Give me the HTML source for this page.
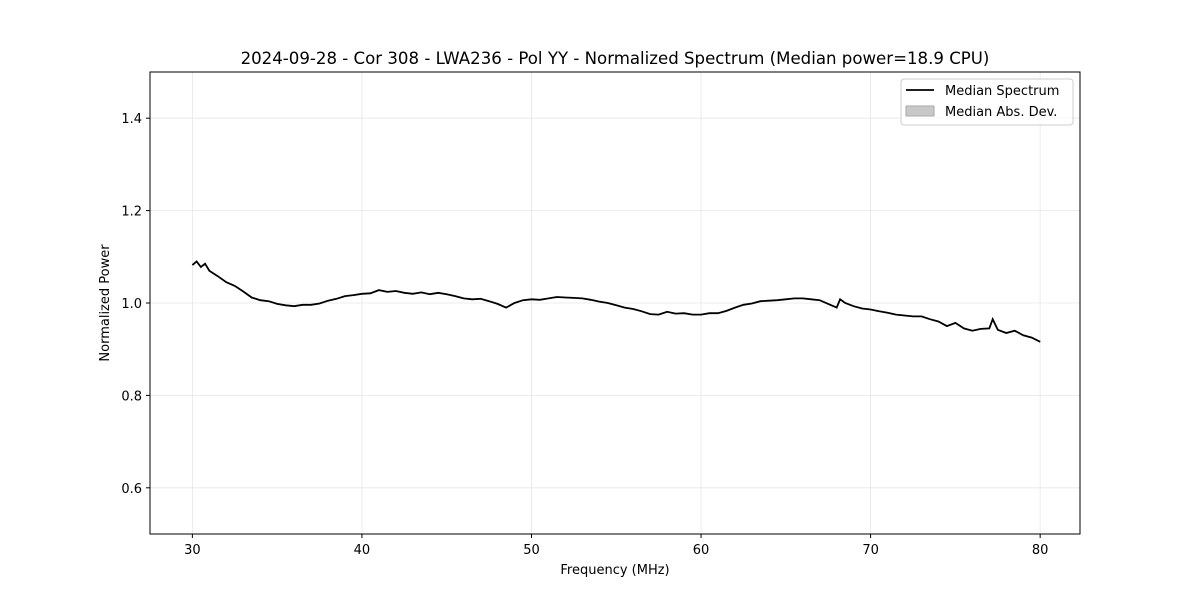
<!DOCTYPE html>
<html><head><meta charset="utf-8"><style>
body{margin:0;background:#fff}
svg{display:block;font-family:"DejaVu Sans","Liberation Sans",sans-serif}
</style></head><body>
<svg id="chart" width="1200" height="600">
<rect width="1200" height="600" fill="#fff"/>
<g id="grid"></g>
<g id="ticks"></g>
<path id="line" fill="none" stroke="#000" stroke-width="1.8"/>
<rect x="150" y="72" width="930" height="462" fill="none" stroke="#000" stroke-width="1"/>
<text x="615" y="64" text-anchor="middle" font-size="16.6">2024-09-28 - Cor 308 - LWA236 - Pol YY - Normalized Spectrum (Median power=18.9 CPU)</text>
<text x="615" y="574" text-anchor="middle" font-size="13">Frequency (MHz)</text>
<text x="109" y="303" text-anchor="middle" font-size="13" transform="rotate(-90 109 303)">Normalized Power</text>
<g>
<rect x="901" y="79" width="172" height="46" rx="3" fill="#fff" fill-opacity="0.8" stroke="#ccc"/>
<line x1="906" y1="90" x2="934" y2="90" stroke="#000" stroke-width="1.8"/>
<text x="945" y="95" font-size="13">Median Spectrum</text>
<rect x="906" y="106" width="28" height="10" fill="#c8c8c8" stroke="#aaa"/>
<text x="945" y="116" font-size="13">Median Abs. Dev.</text>
</g>
</svg>
<script>
const freqs=[30,30.25,30.5,30.75,31,31.5,32,32.5,33,33.5,34,34.5,35,35.5,36,36.5,37,37.5,38,38.5,39,39.5,40,40.5,41,41.5,42,42.5,43,43.5,44,44.5,45,45.5,46,46.5,47,47.5,48,48.5,49,49.5,50,50.5,51,51.5,52,52.5,53,53.5,54,54.5,55,55.5,56,56.5,57,57.5,58,58.5,59,59.5,60,60.5,61,61.5,62,62.5,63,63.5,64,64.5,65,65.5,66,66.5,67,67.5,68,68.2,68.5,69,69.5,70,70.5,71,71.5,72,72.5,73,73.5,74,74.5,75,75.5,76,76.5,77,77.2,77.5,78,78.5,79,79.5,80];
const power=[1.082,1.09,1.078,1.085,1.07,1.058,1.045,1.037,1.025,1.012,1.006,1.004,0.998,0.995,0.993,0.996,0.996,0.999,1.005,1.009,1.015,1.017,1.02,1.021,1.028,1.024,1.026,1.022,1.02,1.023,1.019,1.022,1.019,1.015,1.01,1.008,1.009,1.004,0.998,0.99,1.0,1.006,1.008,1.007,1.01,1.013,1.012,1.011,1.01,1.007,1.003,1.0,0.995,0.99,0.987,0.982,0.976,0.975,0.981,0.977,0.978,0.975,0.975,0.978,0.978,0.983,0.99,0.996,0.999,1.004,1.005,1.006,1.008,1.01,1.01,1.008,1.006,0.998,0.99,1.008,1.0,0.993,0.988,0.986,0.982,0.979,0.975,0.973,0.971,0.971,0.965,0.96,0.95,0.957,0.945,0.94,0.944,0.945,0.965,0.942,0.935,0.94,0.93,0.925,0.916];
const xTicks=[30,40,50,60,70,80];
const yTicks=[0.6,0.8,1.0,1.2,1.4];
const X=f=>150+(f-27.5)/(82.35-27.5)*930;
const Y=v=>72+(1.5-v)/(1.0)*462;
const NS='http://www.w3.org/2000/svg';
const grid=document.getElementById('grid'),ticks=document.getElementById('ticks');
function mk(tag,attrs,parent){const e=document.createElementNS(NS,tag);for(const k in attrs)e.setAttribute(k,attrs[k]);parent.appendChild(e);return e;}
xTicks.forEach(t=>{const x=X(t);
 const g=mk('line',{x1:x,x2:x,y1:72,y2:534,stroke:'#e6e6e6','stroke-width':0.8},grid);
 
 
 mk('line',{x1:x,x2:x,y1:534,y2:538,stroke:'#000'},ticks);
 const tx=mk('text',{x:x,y:554,'text-anchor':'middle','font-size':13},ticks);tx.textContent=t;
 
 
});
yTicks.forEach(t=>{const y=Y(t);
 const g=mk('line',{x1:150,x2:1080,y1:y,y2:y,stroke:'#e6e6e6','stroke-width':0.8},grid);
 
 
 mk('line',{x1:146,x2:150,y1:y,y2:y,stroke:'#000'},ticks);
 const tx=mk('text',{x:142,y:y+5,'text-anchor':'end','font-size':13},ticks);tx.textContent=t.toFixed(1);
 
 
});
document.getElementById('line').setAttribute('d',freqs.map((f,i)=>(i?'L':'M')+X(f).toFixed(1)+','+Y(power[i]).toFixed(1)).join(''));
</script>
</body></html>
